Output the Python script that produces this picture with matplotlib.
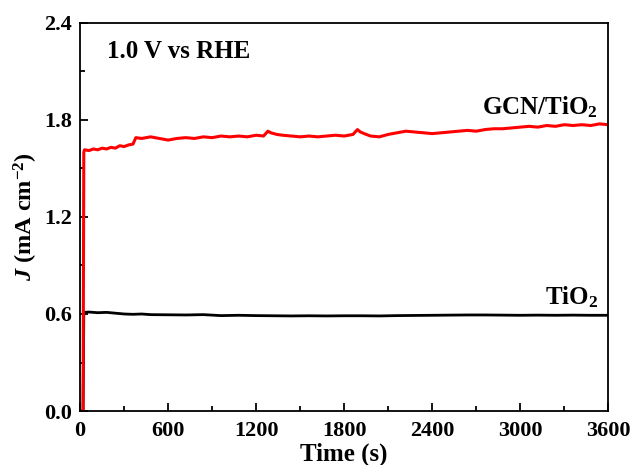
import numpy as np
import matplotlib.pyplot as plt

plt.rcParams['font.family'] = 'Liberation Serif'
plt.rcParams['font.weight'] = 'bold'
plt.rcParams['mathtext.fontset'] = 'custom'
plt.rcParams['mathtext.rm'] = 'Liberation Serif:bold'
plt.rcParams['mathtext.it'] = 'Liberation Serif:bold:italic'
plt.rcParams['mathtext.bf'] = 'Liberation Serif:bold'

# GCN/TiO2 photocurrent
t_gcn = [0, 20, 25, 30, 60, 90, 120, 150, 180, 210, 240, 270, 300, 330, 360, 380,
         420, 480, 540, 600, 660, 720, 780, 840, 900, 960, 1020, 1080, 1140, 1200,
         1250, 1280, 1300, 1340, 1380, 1440, 1500, 1560, 1620, 1680, 1740, 1800,
         1860, 1890, 1910, 1950, 1980, 2040, 2100, 2160, 2220, 2280, 2340, 2400,
         2460, 2520, 2580, 2640, 2700, 2760, 2820, 2880, 2940, 3000, 3060, 3120,
         3180, 3240, 3300, 3360, 3420, 3480, 3540, 3600]
j_gcn = [0.0, 0.0, 1.60, 1.615, 1.61, 1.62, 1.615, 1.625, 1.62, 1.63, 1.625, 1.64, 1.635, 1.645, 1.65, 1.69,
         1.685, 1.695, 1.685, 1.675, 1.685, 1.69, 1.685, 1.695, 1.69, 1.70, 1.695, 1.70, 1.695, 1.705,
         1.70, 1.73, 1.72, 1.71, 1.705, 1.70, 1.695, 1.70, 1.695, 1.70, 1.705, 1.70,
         1.71, 1.74, 1.725, 1.71, 1.70, 1.695, 1.71, 1.72, 1.73, 1.725, 1.72, 1.715,
         1.72, 1.725, 1.73, 1.735, 1.73, 1.74, 1.745, 1.745, 1.75, 1.755, 1.76, 1.755,
         1.765, 1.76, 1.77, 1.765, 1.77, 1.765, 1.775, 1.77]

# bare TiO2 photocurrent
t_tio2 = [0, 20, 25, 60, 120, 180, 240, 300, 360, 420, 480, 600, 720, 840, 960, 1080,
          1200, 1320, 1440, 1560, 1680, 1800, 1920, 2040, 2160, 2280, 2400, 2520,
          2640, 2760, 2880, 3000, 3120, 3240, 3360, 3480, 3600]
j_tio2 = [0.0, 0.0, 0.61, 0.612, 0.608, 0.61, 0.605, 0.60, 0.598, 0.60, 0.596, 0.595, 0.594, 0.596, 0.59, 0.592,
          0.59, 0.589, 0.588, 0.589, 0.588, 0.589, 0.589, 0.588, 0.59, 0.591, 0.592, 0.593,
          0.594, 0.594, 0.593, 0.592, 0.593, 0.592, 0.593, 0.592, 0.592]

fig = plt.figure(figsize=(6.31, 4.65), dpi=100)
ax = fig.add_axes([0.127, 0.116, 0.837, 0.835])

ax.plot(t_tio2, j_tio2, color='black', lw=2.0)
ax.plot(t_gcn, j_gcn, color='#ff0000', lw=2.2)

ax.set_xlim(0, 3600)
ax.set_ylim(0, 2.4)
ax.set_xticks(np.arange(0, 3601, 600))
ax.set_xticks(np.arange(300, 3600, 600), minor=True)
ax.set_yticks([0.0, 0.6, 1.2, 1.8, 2.4])
ax.set_yticklabels(['0.0', '0.6', '1.2', '1.8', '2.4'])
ax.set_yticks([0.3, 0.9, 1.5, 2.1], minor=True)
ax.tick_params(which='both', direction='in', labelsize=16, width=1.3)
ax.tick_params(which='major', length=6)
ax.tick_params(which='minor', length=3.5)
ax.tick_params(axis='y', pad=6)
ax.tick_params(axis='x', pad=7)
for s in ax.spines.values():
    s.set_linewidth(1.3)

ax.set_xlabel('Time (s)', fontsize=18, fontweight='bold', labelpad=1)
ax.set_ylabel('$J$ (mA cm$^{-2}$)', fontsize=17.5, fontweight='bold', labelpad=3)

ax.text(185, 2.22, '1.0 V vs RHE', fontsize=18, fontweight='bold', va='center')
ax.text(3530, 1.88, 'GCN/TiO$_2$', fontsize=18, fontweight='bold', va='center', ha='right')
ax.text(3530, 0.705, 'TiO$_2$', fontsize=18, fontweight='bold', va='center', ha='right')

fig.savefig('out.png', dpi=100)
